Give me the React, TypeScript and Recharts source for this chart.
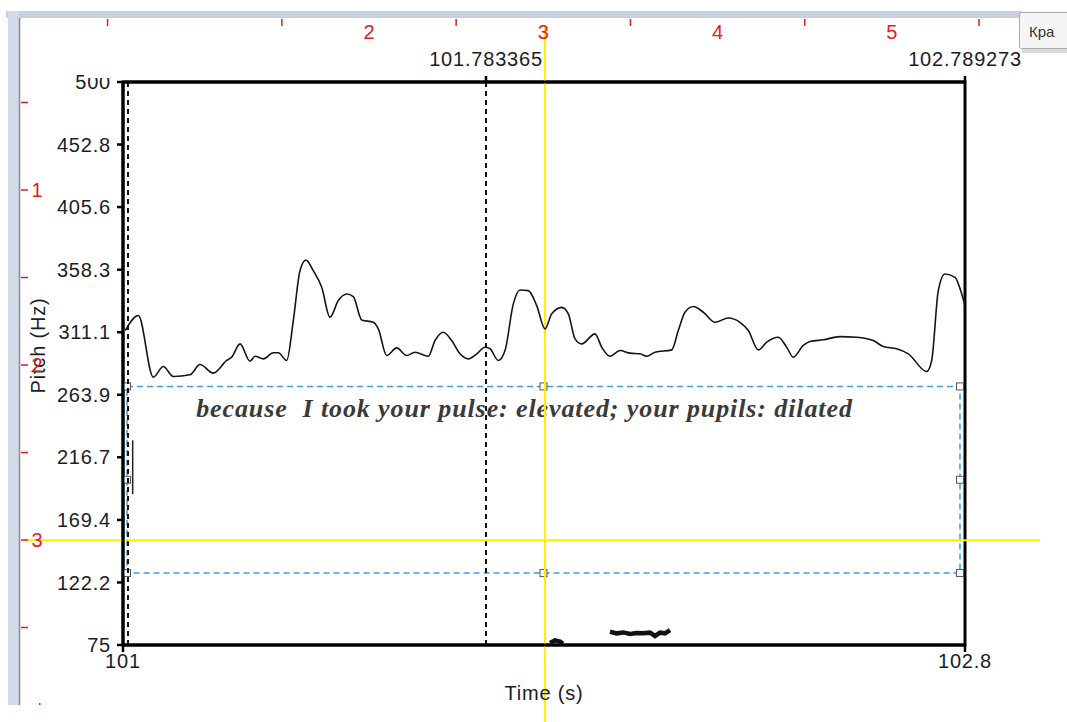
import React from 'react';
import { LineChart, Line, XAxis, YAxis, ReferenceLine, ReferenceArea } from 'recharts';

// pitch contour (time in s, F0 in Hz)
const pitchTimes = [
  101.005, 101.0328, 101.0648, 101.0861, 101.1075, 101.1432, 101.1646, 101.193, 101.2217, 101.2324,
  101.2502, 101.2715, 101.2822, 101.3, 101.3213, 101.332, 101.35, 101.3641, 101.3784, 101.3912,
  101.4068, 101.4248, 101.4425, 101.4603, 101.4782, 101.4923, 101.5103, 101.5351, 101.5458, 101.5637,
  101.5851, 101.6065, 101.6242, 101.6527, 101.667, 101.6848, 101.7027, 101.7205, 101.7382, 101.7562,
  101.7739, 101.7846, 101.8023, 101.8167, 101.8344, 101.8487, 101.8665, 101.8844, 101.9022, 101.9165,
  101.9379, 101.952, 101.9663, 101.9806, 102.009, 102.0234, 102.0412, 102.0625, 102.0839, 102.1053,
  102.1196, 102.1373, 102.173, 102.1871, 102.2014, 102.2192, 102.2406, 102.2656, 102.2941, 102.319,
  102.3368, 102.3582, 102.3761, 102.4009, 102.4188, 102.4329, 102.4543, 102.4687, 102.4971, 102.5328,
  102.5685, 102.604, 102.6254, 102.654, 102.6788, 102.7181, 102.7288, 102.7429, 102.7572, 102.7787,
  102.793, 102.8,
];
const pitchHz = [
  312.4, 323.7, 277.2, 285.2, 277.7, 279.0, 286.7, 280.2, 289.8, 292.3,
  302.3, 289.2, 293.0, 291.0, 295.6, 295.6, 289.8, 319.9, 357.6, 365.6,
  357.6, 345.0, 322.4, 335.0, 340.0, 338.0, 320.4, 318.6, 313.6, 293.5,
  299.3, 293.5, 296.0, 293.0, 304.8, 311.1, 304.8, 294.8, 291.0, 294.8,
  299.8, 298.6, 289.8, 297.3, 332.5, 343.0, 342.5, 331.2, 313.6, 325.0,
  329.9, 325.0, 306.1, 302.3, 309.9, 299.8, 293.0, 297.3, 295.3, 294.8,
  293.0, 296.0, 297.8, 312.4, 326.2, 330.5, 326.2, 318.6, 321.9, 318.6,
  312.4, 297.8, 303.6, 307.3, 299.8, 292.3, 301.1, 304.1, 305.4, 307.8,
  307.3, 304.8, 300.3, 298.6, 294.8, 281.5, 289.8, 342.5, 355.1, 352.5,
  340.0, 331.2,
];

// stray low pitch fragments near the floor
const lowTimesA = [101.9128, 101.9235, 101.9342, 101.9406];
const lowHzA = [76.5, 78.5, 77.5, 76.0];
const lowTimesB = [
  102.0411, 102.0554, 102.0696, 102.0839, 102.0982, 102.1123, 102.1266, 102.1373, 102.148, 102.1587, 102.1694,
];
const lowHzB = [85.0, 83.8, 84.5, 83.3, 84.0, 83.8, 84.3, 81.8, 84.3, 83.8, 86.3];

const hzTicks = [75, 122.2, 169.4, 216.7, 263.9, 311.1, 358.3, 405.6, 452.8, 500];
const timeTicks = [101, 102.8];
const markTicks = [101.783365, 102.789273];
const markDomain = [101.021058, 102.789273];

const cursorTime = 101.9022;
const cursorHz = 154.1;
const leftMarkTime = 101.0107;
const textCursorTime = 101.0207;
const textCursorHz = [188.8, 229.5];
const selTimes = [101.0086, 102.789273];
const selHz = [129.3, 270.2];
const caption = 'because  I took your pulse: elevated; your pupils: dilated';

const rulerTopLabels = [2, 3, 4, 5];
const rulerTopMinor = [0.5, 1.5, 2.5, 3.5, 4.5, 5.5];
const rulerLeftLabels = [1, 2, 3];
const rulerLeftMinor = [0.5, 1.5, 2.5, 3.5];

const pitchData = pitchTimes.map((t, i) => ({ t, hz: pitchHz[i] }));
const lowData = [
  ...lowTimesA.map((t, i) => ({ t, hz: lowHzA[i] })),
  { t: 101.98, hz: null },
  ...lowTimesB.map((t, i) => ({ t, hz: lowHzB[i] })),
];

const AXIS_FONT = '"Liberation Sans", Arial, sans-serif';
const RED = '#e31b23';
const YELLOW = '#ffee00';

const tickStyle = { fill: '#1c1c28', fontSize: 20, fontFamily: AXIS_FONT, letterSpacing: 0.8 };

const PitchLabel = ({ viewBox }: any) => {
  const cx = viewBox.x + 15;
  const cy = viewBox.y + viewBox.height / 2 - 18;
  return (
    <text x={cx} y={cy} transform={`rotate(-90 ${cx} ${cy})`} textAnchor="middle" dominantBaseline="central"
      style={tickStyle}>Pitch (Hz)</text>
  );
};

const TimeLabel = ({ viewBox }: any) => (
  <text x={viewBox.x + viewBox.width / 2} y={viewBox.y + 48} textAnchor="middle" dominantBaseline="central"
    style={tickStyle}>Time (s)</text>
);

// yellow cursor lines run across the whole window
const CursorV = (p: any) => <line x1={p.x1} x2={p.x1} y1={26} y2={722} stroke={YELLOW} strokeWidth={2} />;
const CursorH = (p: any) => <line x1={24} x2={1040} y1={p.y1} y2={p.y1} stroke={YELLOW} strokeWidth={2} />;

// selection box with drag handles and the caption inside
const Selection = (p: any) => {
  const { x, y, width, height } = p;
  const hs = 7;
  const handles = [
    [x, y], [x + width / 2, y], [x + width, y],
    [x, y + height / 2], [x + width, y + height / 2],
    [x, y + height], [x + width / 2, y + height], [x + width, y + height],
  ];
  return (
    <g>
      <rect x={x} y={y} width={width} height={height} fill="none" stroke="#3d9bf0" strokeWidth={1.5} strokeDasharray="6 4" />
      <text x={x + width / 2 - 19} y={y + 31} textAnchor="middle"
        style={{ fontFamily: '"Liberation Serif", "Times New Roman", serif', fontWeight: 'bold', fontStyle: 'italic',
          fontSize: 26, fill: '#3a3a3a', whiteSpace: 'pre', letterSpacing: 0.9 }}>{caption}</text>
      {handles.map(([hx, hy], i) => (
        <rect key={i} x={hx - hs / 2} y={hy - hs / 2} width={hs} height={hs} fill="#fff" stroke="#555" strokeWidth={1} />
      ))}
    </g>
  );
};

const Chrome = () => {
  const topStep = 174.3;
  const topOrigin = 20.4;
  const leftStep = 175;
  const leftOrigin = 15;
  return (
    <svg width={1067} height={722} style={{ position: 'absolute', left: 0, top: 0, pointerEvents: 'none' }}>
      <rect x={6} y={11} width={1016} height={7} fill="#c8d0df" />
      <rect x={8} y={11} width={11} height={694} fill="#d3dbe8" />
      <line x1={19.5} x2={19.5} y1={18} y2={705} stroke="#8a8a8a" strokeWidth={1.5} />
      {rulerTopMinor.map((v) => (
        <line key={`tm${v}`} x1={topOrigin + v * topStep} x2={topOrigin + v * topStep} y1={19} y2={26} stroke={RED} strokeWidth={1.5} />
      ))}
      {rulerTopLabels.map((v) => (
        <text key={`tl${v}`} x={topOrigin + v * topStep} y={39} textAnchor="middle" fill={RED}
          style={{ fontFamily: AXIS_FONT, fontSize: 20 }}>{v}</text>
      ))}
      {rulerLeftMinor.map((v) => (
        <line key={`lm${v}`} x1={21} x2={28} y1={leftOrigin + v * leftStep} y2={leftOrigin + v * leftStep} stroke={RED} strokeWidth={1.5} />
      ))}
      {rulerLeftLabels.map((v) => (
        <g key={`ll${v}`}>
          <line x1={21} x2={28} y1={leftOrigin + v * leftStep} y2={leftOrigin + v * leftStep} stroke={RED} strokeWidth={1.5} />
          <text x={37} y={leftOrigin + v * leftStep + 7} textAnchor="middle" fill={RED}
            style={{ fontFamily: AXIS_FONT, fontSize: 20 }}>{v}</text>
        </g>
      ))}
      <rect x={39} y={703} width={1.5} height={2} fill={RED} />
      <rect x={1022} y={15} width={50} height={38} fill="#d9d9d9" />
      <rect x={1019.5} y={12.5} width={50} height={36} fill="#f5f5f5" stroke="#a9a9a9" strokeWidth={1} rx={2} />
      <text x={1029} y={37} fill="#333" style={{ fontFamily: AXIS_FONT, fontSize: 15 }}>Кра</text>
      {/* top of the 500 label is hidden under the header strip */}
      <rect x={84} y={60} width={30} height={18} fill="#fff" />
    </svg>
  );
};

export default function App() {
  return (
    <div style={{ position: 'absolute', left: 0, top: 0, width: 1067, height: 722, background: '#fff' }}>
      <LineChart width={1067} height={722} data={pitchData} margin={{ top: 42, right: 102, bottom: 37, left: 23 }}>
        <XAxis dataKey="t" type="number" domain={[101, 102.8]} allowDataOverflow ticks={timeTicks}
          tickFormatter={(v) => String(v)} interval={0} height={40}
          axisLine={{ stroke: '#000', strokeWidth: 3 }} tickLine={{ stroke: '#000', strokeWidth: 2.5 }} tickSize={7}
          tick={tickStyle} label={(props: any) => <TimeLabel {...props} />} />
        <XAxis xAxisId="top" dataKey="t" orientation="top" type="number" domain={markDomain} allowDataOverflow
          ticks={markTicks} tickFormatter={(v) => String(v)} interval={0} height={40} tickMargin={10}
          axisLine={{ stroke: '#000', strokeWidth: 3 }} tickLine={{ stroke: '#000', strokeWidth: 2.5 }} tickSize={6}
          tick={tickStyle} />
        <YAxis type="number" domain={[75, 500]} allowDataOverflow ticks={hzTicks} interval={0} width={100}
          axisLine={{ stroke: '#000', strokeWidth: 3 }} tickLine={{ stroke: '#000', strokeWidth: 2.5 }} tickSize={6} tickMargin={6}
          tick={tickStyle} label={(props: any) => <PitchLabel {...props} />} />
        <ReferenceArea x1={101} x2={102.8} y1={75} y2={500} fill="none" stroke="#000" strokeWidth={3} ifOverflow="visible" />
        <ReferenceArea x1={selTimes[0]} x2={selTimes[1]} y1={selHz[0]} y2={selHz[1]} ifOverflow="visible"
          shape={(p: any) => <Selection {...p} />} />
        <ReferenceLine x={leftMarkTime} stroke="#111" strokeWidth={2} strokeDasharray="5 4" />
        <ReferenceLine xAxisId="top" x={markTicks[0]} stroke="#111" strokeWidth={2} strokeDasharray="5 4" />
        <ReferenceLine segment={[{ x: textCursorTime, y: textCursorHz[0] }, { x: textCursorTime, y: textCursorHz[1] }]}
          stroke="#222" strokeWidth={1.5} />
        <ReferenceLine x={cursorTime} shape={(p: any) => <CursorV {...p} />} />
        <ReferenceLine y={cursorHz} shape={(p: any) => <CursorH {...p} />} />
        <Line dataKey="hz" type="monotone" stroke="#151515" strokeWidth={1.6} dot={false} isAnimationActive={false} />
        <Line data={lowData} dataKey="hz" type="linear" stroke="#111" strokeWidth={4.5} dot={false}
          connectNulls={false} isAnimationActive={false} />
      </LineChart>
      <Chrome />
    </div>
  );
}
